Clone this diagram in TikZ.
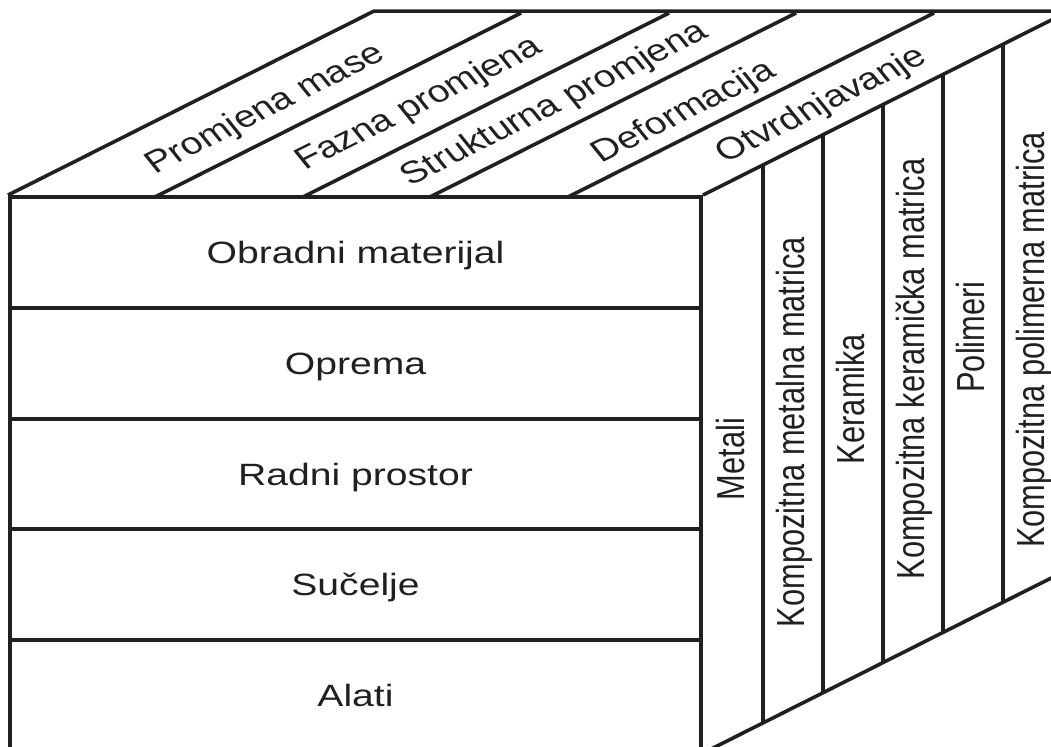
\documentclass[tikz,border=0pt]{standalone}
\usepackage{fontspec}
\setmainfont{Liberation Sans}
\usepackage{graphicx}
\usetikzlibrary{calc,positioning}

\definecolor{ink}{HTML}{202020}
\newcommand{\wide}[1]{\scalebox{1.27}[1]{#1}}

\begin{document}
\begin{tikzpicture}[x=0.5pt,y=-0.5pt,node distance=55.4pt,line width=2pt,
    layer/.style={draw=ink,rectangle,minimum width=345.5pt,minimum height=55.4pt,
      inner sep=0pt,text=ink,font=\fontsize{15.4}{18}\selectfont,
      text height=11pt,text depth=0pt},
    material/.style={xscale=1.27,rotate=90,inner sep=0pt,text=ink,
      font=\fontsize{15.4}{18}\selectfont,text height=11pt,text depth=0pt},
    effect/.style={xscale=1.27,rotate=32.4,inner sep=0pt,text=ink,
      font=\fontsize{15.4}{18}\selectfont,text height=11pt,text depth=0pt},
    face/.style={draw=ink,line width=1.8pt}]
  \useasboundingbox (0,0) rectangle (1051,747);
  \clip (0,0) rectangle (1051,747);

  % front face
  \node[layer] (r1) at (355.5,252.5) {\wide{Obradni materijal}};
  \node[layer] (r2) [below of=r1] {\wide{Oprema}};
  \node[layer] (r3) [below of=r2] {\wide{Radni prostor}};
  \node[layer] (r4) [below of=r3] {\wide{Sučelje}};
  \node[layer] (r5) [below of=r4] {\wide{Alati}};

  % top face
  \coordinate (depth) at (366,-184);
  \coordinate (t0) at (r1.north west);
  \coordinate (t1) at (155,197);
  \coordinate (t2) at (303,197);
  \coordinate (t3) at (430,197);
  \coordinate (t4) at (568,197);
  \coordinate (t5) at (r1.north east);
  \coordinate (b0) at ($(t0)+(depth)$);
  \coordinate (b5) at ($(t5)+(depth)$);
  \draw[face] (t0) -- (b0) -- (b5);
  \draw[face] (t1) -- ++(depth);
  \draw[face] (t2) -- ++(depth);
  \draw[face] (t3) -- ++(depth);
  \draw[face] (t4) -- ++(depth);
  \draw[face] (t5) -- (b5);

  \node[effect] (e1) at (264,107) {Promjena mase};
  \node[effect] (e2) at (417,102) {Fazna promjena};
  \node[effect] (e3) at (553,102) {Strukturna promjena};
  \node[effect] (e4) at (682,110) {Deformacija};
  \node[effect] (e5) at (820,103) {Otvrdnjavanje};

  % side face
  \coordinate (s0) at (r5.south east);
  \coordinate (s6) at ($(s0)+(depth)$);
  \draw[face] (s0) -- (s6);
  \draw[face] ($(t5)!0.164!(b5)$) -- ($(s0)!0.164!(s6)$);
  \draw[face] ($(t5)!0.328!(b5)$) -- ($(s0)!0.328!(s6)$);
  \draw[face] ($(t5)!0.492!(b5)$) -- ($(s0)!0.492!(s6)$);
  \draw[face] ($(t5)!0.656!(b5)$) -- ($(s0)!0.656!(s6)$);
  \draw[face] ($(t5)!0.820!(b5)$) -- ($(s0)!0.820!(s6)$);

  \node[material] (m1) at (730.5,459) {Metali};
  \node[material] (m2) at (790.5,432) {Kompozitna metalna matrica};
  \node[material] (m3) at (850.5,399) {Keramika};
  \node[material] (m4) at (910.5,369) {Kompozitna keramička matrica};
  \node[material] (m5) at (970.5,337) {Polimeri};
  \node[material] (m6) at (1030.5,340) {Kompozitna polimerna matrica};
\end{tikzpicture}
\end{document}
